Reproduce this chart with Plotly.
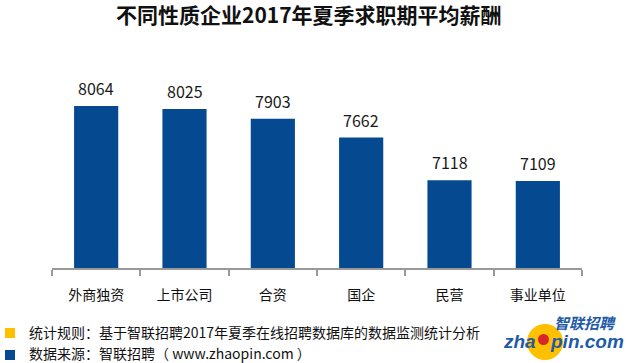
import plotly.graph_objects as go

categories = ["外商独资", "上市公司", "合资", "国企", "民营", "事业单位"]
salaries = [8064, 8025, 7903, 7662, 7118, 7109]

title_text = "不同性质企业2017年夏季求职期平均薪酬"
note_rule = "统计规则：基于智联招聘2017年夏季在线招聘数据库的数据监测统计分析"
note_source = "数据来源：智联招聘（ www.zhaopin.com ）"

W, H = 627, 363
L, R, T, B = 52, 45, 70, 95
PW, PH = W - L - R, H - T - B

def px(x):
    return (x - L) / PW

def py(y):
    return (H - B - y) / PH

BLUE = "#054A91"
YELLOW = "#FFC000"
LOGO_BLUE = "#1F5BA8"
FONT = "Noto Sans CJK SC, Microsoft YaHei, sans-serif"

fig = go.Figure(go.Bar(
    x=categories, y=salaries, marker_color=BLUE, marker_line_width=0,
    hoverinfo="skip"))

for c, v in zip(categories, salaries):
    fig.add_annotation(x=c, y=v, text=str(v), showarrow=False, yanchor="bottom",
                       yshift=4, font=dict(size=16, color="#1a1a1a", family=FONT))

fig.add_annotation(x=px(309), y=py(14), xref="paper", yref="paper", text=f"<b>{title_text}</b>",
                   showarrow=False, font=dict(size=21, color="#111", family=FONT),
                   xanchor="center", yanchor="middle")

fig.add_shape(type="rect", xref="paper", yref="paper", x0=px(5), x1=px(15), y0=py(338), y1=py(328),
              fillcolor=YELLOW, line_width=0)
fig.add_shape(type="rect", xref="paper", yref="paper", x0=px(5), x1=px(15), y0=py(360), y1=py(350),
              fillcolor=BLUE, line_width=0)
fig.add_annotation(x=px(27), y=py(332), xref="paper", yref="paper", text=note_rule, showarrow=False,
                   xanchor="left", yanchor="middle", font=dict(size=14, color="#111", family=FONT))
fig.add_annotation(x=px(27), y=py(353), xref="paper", yref="paper", text=note_source, showarrow=False,
                   xanchor="left", yanchor="middle", font=dict(size=14, color="#111", family=FONT))

# logo
fig.add_shape(type="circle", xref="paper", yref="paper", x0=px(527), x1=px(563), y0=py(360), y1=py(324),
              fillcolor=YELLOW, line_width=0)
fig.add_shape(type="circle", xref="paper", yref="paper", x0=px(538), x1=px(549), y0=py(345), y1=py(334),
              fillcolor="#D7262B", line_width=0)
fig.add_annotation(x=px(618), y=py(322), xref="paper", yref="paper", text="<b><i>智联招聘</i></b>",
                   showarrow=False, xanchor="right", yanchor="middle",
                   font=dict(size=15, color=LOGO_BLUE, family=FONT))
fig.add_annotation(x=px(538), y=py(341), xref="paper", yref="paper", text="<b><i>zha</i></b>",
                   showarrow=False, xanchor="right", yanchor="middle",
                   font=dict(size=19, color=LOGO_BLUE, family="Liberation Sans, Arial"))
fig.add_annotation(x=px(548), y=py(341), xref="paper", yref="paper", text="<b><i>pin.com</i></b>",
                   showarrow=False, xanchor="left", yanchor="middle",
                   font=dict(size=19, color=LOGO_BLUE, family="Liberation Sans, Arial"))

fig.update_layout(
    width=W, height=H, margin=dict(l=L, r=R, t=T, b=B),
    paper_bgcolor="white", plot_bgcolor="white", showlegend=False, bargap=0.5,
    xaxis=dict(showline=True, linecolor="#999", linewidth=1.5, ticks="outside", ticklen=6,
               tickcolor="#999", tickwidth=1.5, tickson="boundaries", ticklabelstandoff=13,
               tickfont=dict(size=14, color="#111", family=FONT), showgrid=False, fixedrange=True),
    yaxis=dict(range=[6000, 8523], visible=False, showgrid=False, fixedrange=True),
)

fig.write_html("out.html", config={"displayModeBar": False},
               post_script="document.body.style.margin='0';")
